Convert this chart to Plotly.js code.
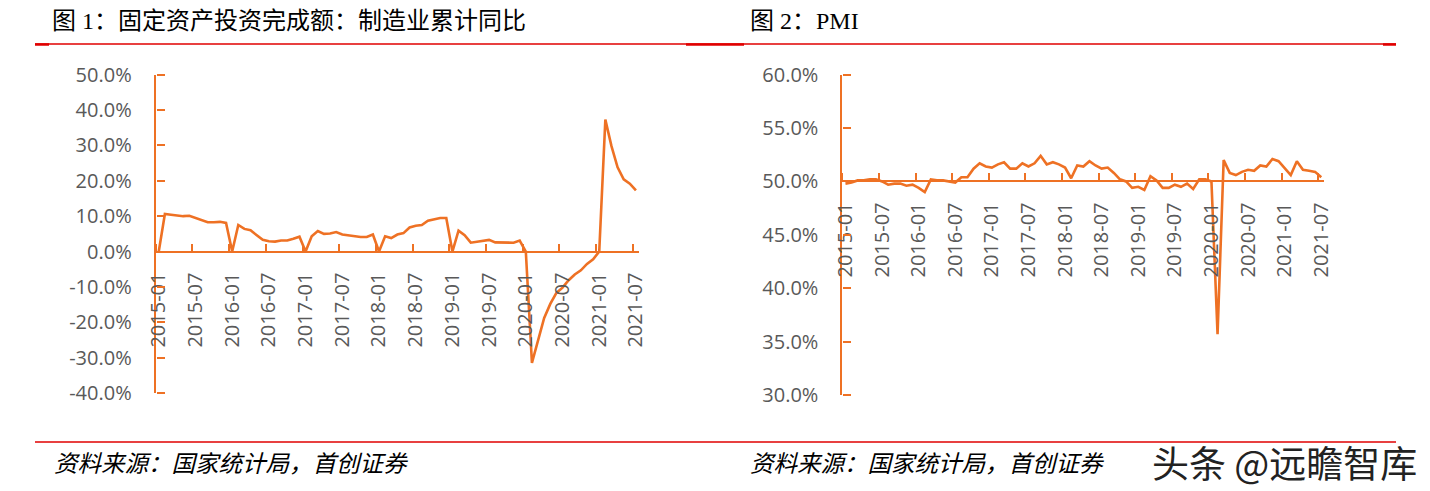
<!DOCTYPE html>
<html>
<head>
<meta charset="utf-8">
<script src="https://cdn.plot.ly/plotly-3.0.1.min.js"></script>
<style>
html,body{margin:0;padding:0;background:#fff;}
#chart{width:1430px;height:491px;}
</style>
</head>
<body>
<div id="chart"></div>
<script>
// 固定资产投资完成额：制造业累计同比 (%), 2015-01 .. 2021-07
const faiMfgYoY = [
  0, 10.6, 10.4, 10.1, 10.0, 10.1, 9.5, 9.1, 8.3, 8.3, 8.4, 8.1,
  0, 7.5, 6.4, 6.0, 4.6, 3.3, 2.9, 2.8, 3.1, 3.1, 3.6, 4.2,
  0, 4.3, 5.8, 5.0, 5.1, 5.5, 4.8, 4.5, 4.2, 4.1, 4.1, 4.8,
  0, 4.3, 3.8, 4.8, 5.2, 6.8, 7.3, 7.5, 8.7, 9.1, 9.5, 9.5,
  0, 5.9, 4.6, 2.5, 2.7, 3.0, 3.3, 2.6, 2.5, 2.6, 2.5, 3.1,
  0, -31.5, -25.2, -18.8, -14.8, -11.7, -10.2, -8.1, -6.5, -5.3, -3.5, -2.2,
  0, 37.3, 29.8, 23.8, 20.4, 19.2, 17.3
];
// PMI (%), 2015-01 .. 2021-07
const pmi = [
  49.8, 49.9, 50.1, 50.1, 50.2, 50.2, 50.0, 49.7, 49.8, 49.8, 49.6, 49.7,
  49.4, 49.0, 50.2, 50.1, 50.1, 50.0, 49.9, 50.4, 50.4, 51.2, 51.7, 51.4,
  51.3, 51.6, 51.8, 51.2, 51.2, 51.7, 51.4, 51.7, 52.4, 51.6, 51.8, 51.6,
  51.3, 50.3, 51.5, 51.4, 51.9, 51.5, 51.2, 51.3, 50.8, 50.2, 50.0, 49.4,
  49.5, 49.2, 50.5, 50.1, 49.4, 49.4, 49.7, 49.5, 49.8, 49.3, 50.2, 50.2,
  50.0, 35.7, 52.0, 50.8, 50.6, 50.9, 51.1, 51.0, 51.5, 51.4, 52.1, 51.9,
  51.3, 50.6, 51.9, 51.1, 51.0, 50.9, 50.4
];
const xTickLabels = ['2015-01','2015-07','2016-01','2016-07','2017-01','2017-07','2018-01',
  '2018-07','2019-01','2019-07','2020-01','2020-07','2021-01','2021-07'];
const leftYTickVals = [-40, -30, -20, -10, 0, 10, 20, 30, 40, 50];
const leftYTickText = ['-40.0%','-30.0%','-20.0%','-10.0%','0.0%','10.0%','20.0%','30.0%','40.0%','50.0%'];
const rightYTickVals = [30, 35, 40, 45, 50, 55, 60];
const rightYTickText = ['30.0%','35.0%','40.0%','45.0%','50.0%','55.0%','60.0%'];
const title1 = '图 1：固定资产投资完成额：制造业累计同比';
const title2 = '图 2：PMI';
const sourceText = '资料来源：国家统计局，首创证券';
const watermark = '头条 @远瞻智库';

const months = [];
for (let i = 0; i < faiMfgYoY.length; i++) {
  const y = 2015 + Math.floor(i / 12), m = (i % 12) + 1;
  months.push(y + '-' + String(m).padStart(2, '0'));
}
const idx = months.map((_, i) => i);
const labelVals = xTickLabels.map(l => months.indexOf(l));
const boundaryVals = labelVals.map(v => v - 0.5);

const W = 1430, H = 491;
const px = x => x / W;
const py = y => 1 - y / H;

const ORANGE = '#EE7124';
const GREY = '#595959';
const RED = '#E00000';
const tickFont = {family: 'Open Sans, sans-serif', size: 20, color: GREY};
const xRange = [-0.5, months.length - 0.5];

const L = {x0: 155.7, x1: 639, yTop: 74.7, yBot: 393};
const R = {x0: 842.4, x1: 1324.3, yTop: 74.7, yBot: 395};
const leftZeroY = L.yTop + (50 - 0) / 90 * (L.yBot - L.yTop);
const rightFiftyY = R.yTop + (60 - 50) / 30 * (R.yBot - R.yTop);

const lineStyle = {color: ORANGE, width: 2.6};

const data = [
  {x: idx, y: faiMfgYoY, type: 'scatter', mode: 'lines', line: lineStyle, xaxis: 'x', yaxis: 'y', hoverinfo: 'skip'},
  {x: idx, y: pmi, type: 'scatter', mode: 'lines', line: lineStyle, xaxis: 'x2', yaxis: 'y2', hoverinfo: 'skip'},
  {x: [], y: [], type: 'scatter', mode: 'lines', xaxis: 'x3', yaxis: 'y3', hoverinfo: 'skip'},
  {x: [], y: [], type: 'scatter', mode: 'lines', xaxis: 'x4', yaxis: 'y4', hoverinfo: 'skip'}
];

// axis carrying the date labels and the axis line
function labelAxis(domain, pos) {
  return {
    domain: domain, anchor: 'free', position: pos, range: xRange,
    showline: true, linecolor: ORANGE, linewidth: 2,
    showgrid: false, zeroline: false, ticks: '',
    tickmode: 'array', tickvals: labelVals, ticktext: xTickLabels,
    tickangle: -90, tickfont: tickFont, ticklabelstandoff: 12
  };
}
// axis carrying only the upward tick marks at category boundaries
function xTickAxis(domain, pos, over) {
  return {
    domain: domain, anchor: 'free', position: pos, range: xRange, overlaying: over, side: 'top',
    showline: false, showgrid: false, zeroline: false,
    ticks: 'outside', ticklen: 8, tickwidth: 2, tickcolor: ORANGE,
    tickmode: 'array', tickvals: boundaryVals, showticklabels: false
  };
}
function yAx(domain, anchor, range, vals, text) {
  return {
    domain: domain, anchor: anchor, range: range,
    showline: true, linecolor: ORANGE, linewidth: 2,
    showgrid: false, zeroline: false, ticks: '',
    tickmode: 'array', tickvals: vals, ticktext: text,
    tickfont: tickFont, ticklabelstandoff: 18
  };
}
// right-side axis placed on the left edge => ticks point into the plot
function yTickAxis(domain, pos, over, range, vals) {
  return {
    domain: domain, anchor: 'free', position: pos, side: 'right', overlaying: over, range: range,
    showline: false, showgrid: false, zeroline: false,
    ticks: 'outside', ticklen: 8, tickwidth: 2, tickcolor: ORANGE,
    tickmode: 'array', tickvals: vals, showticklabels: false
  };
}

const lDomX = [px(L.x0), px(L.x1)], lDomY = [py(L.yBot), py(L.yTop)];
const rDomX = [px(R.x0), px(R.x1)], rDomY = [py(R.yBot), py(R.yTop)];

const titleFont = {family: 'Liberation Serif, Noto Sans CJK SC, serif', size: 24, color: '#000'};
const srcFont = {family: 'Noto Sans CJK SC, sans-serif', size: 23.5, color: '#000', style: 'italic'};

const layout = {
  width: W, height: H,
  margin: {l: 0, r: 0, t: 0, b: 0},
  paper_bgcolor: '#fff', plot_bgcolor: 'rgba(0,0,0,0)',
  showlegend: false,
  xaxis: labelAxis(lDomX, py(leftZeroY)),
  yaxis: yAx(lDomY, 'x', [-40, 50], leftYTickVals, leftYTickText),
  xaxis3: xTickAxis(lDomX, py(leftZeroY), 'x'),
  yaxis3: yTickAxis(lDomY, px(L.x0), 'y', [-40, 50], leftYTickVals),
  xaxis2: labelAxis(rDomX, py(rightFiftyY)),
  yaxis2: yAx(rDomY, 'x2', [30, 60], rightYTickVals, rightYTickText),
  xaxis4: xTickAxis(rDomX, py(rightFiftyY), 'x2'),
  yaxis4: yTickAxis(rDomY, px(R.x0), 'y2', [30, 60], rightYTickVals),
  shapes: [
    {type: 'line', xref: 'paper', yref: 'paper', x0: px(35), x1: px(1396), y0: py(44), y1: py(44), line: {color: RED, width: 1.5}},
    {type: 'line', xref: 'paper', yref: 'paper', x0: px(35), x1: px(49), y0: py(44.5), y1: py(44.5), line: {color: RED, width: 2.5}},
    {type: 'line', xref: 'paper', yref: 'paper', x0: px(686), x1: px(744), y0: py(44.5), y1: py(44.5), line: {color: RED, width: 2.5}},
    {type: 'line', xref: 'paper', yref: 'paper', x0: px(1383), x1: px(1396), y0: py(44.5), y1: py(44.5), line: {color: RED, width: 2.5}},
    {type: 'line', xref: 'paper', yref: 'paper', x0: px(35), x1: px(1396), y0: py(442), y1: py(442), line: {color: RED, width: 1.5}}
  ],
  annotations: [
    {text: title1, xref: 'paper', yref: 'paper', x: px(50), y: py(21), xanchor: 'left', yanchor: 'middle', showarrow: false, font: titleFont},
    {text: title2, xref: 'paper', yref: 'paper', x: px(748), y: py(21), xanchor: 'left', yanchor: 'middle', showarrow: false, font: titleFont},
    {text: sourceText, xref: 'paper', yref: 'paper', x: px(52), y: py(462), xanchor: 'left', yanchor: 'middle', showarrow: false, font: srcFont},
    {text: sourceText, xref: 'paper', yref: 'paper', x: px(748), y: py(462), xanchor: 'left', yanchor: 'middle', showarrow: false, font: srcFont},
    {text: watermark, xref: 'paper', yref: 'paper', x: px(1150), y: py(462), xanchor: 'left', yanchor: 'middle', showarrow: false,
     font: {family: 'Noto Sans CJK SC, sans-serif', size: 37, color: '#222'}}
  ]
};

Plotly.newPlot('chart', data, layout, {displayModeBar: false});
</script>
</body>
</html>
